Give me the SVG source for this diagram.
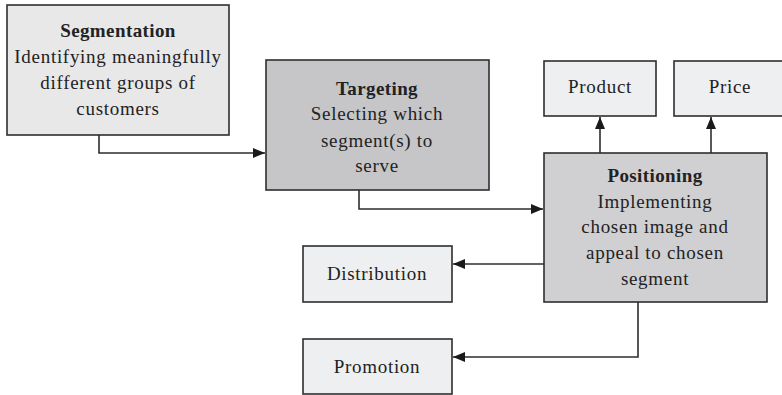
<svg xmlns="http://www.w3.org/2000/svg" width="782" height="395" viewBox="0 0 782 395">
  <style>
    .box { stroke: #2e2e2e; stroke-width: 1.6; }
    .light { fill: #eeeff0; }
    .mid { fill: #e8e8e9; }
    .dark { fill: #c6c6c8; }
    .pos { fill: #d0d0d2; }
    text { font-family: "Liberation Serif", "DejaVu Serif", serif; font-size: 19px; letter-spacing: 0.7px; fill: #222; text-anchor: middle; }
    .title { font-weight: bold; letter-spacing: 0.4px; }
    .conn { fill: none; stroke: #2e2e2e; stroke-width: 1.6; }
  </style>
  <defs>
    <marker id="arrow" viewBox="0 0 12 10" refX="12" refY="5" markerWidth="12" markerHeight="10" markerUnits="userSpaceOnUse" orient="auto">
      <path d="M0,0 L12,5 L0,10 Z" fill="#1a1a1a"/>
    </marker>
  </defs>

  <rect width="782" height="395" fill="#ffffff"/>

  <g id="connectors">
    <path class="conn" d="M99,135 V153 H265" marker-end="url(#arrow)"/>
    <path class="conn" d="M359,190 V209 H543" marker-end="url(#arrow)"/>
    <path class="conn" d="M600,153 V117" marker-end="url(#arrow)"/>
    <path class="conn" d="M711,153 V117" marker-end="url(#arrow)"/>
    <path class="conn" d="M544,264 H453" marker-end="url(#arrow)"/>
    <path class="conn" d="M638,302 V357 H453" marker-end="url(#arrow)"/>
  </g>

  <g id="segmentation">
    <rect class="box mid" x="7" y="5" width="222" height="130"/>
    <text class="title" x="118" y="37">Segmentation</text>
    <text x="118" y="63">Identifying meaningfully</text>
    <text x="118" y="89">different groups of</text>
    <text x="118" y="115">customers</text>
  </g>

  <g id="targeting">
    <rect class="box dark" x="266" y="60" width="223" height="130"/>
    <text class="title" x="377" y="95">Targeting</text>
    <text x="377" y="120">Selecting which</text>
    <text x="377" y="147">segment(s) to</text>
    <text x="377" y="172">serve</text>
  </g>

  <g id="product">
    <rect class="box light" x="544" y="61" width="112" height="55"/>
    <text x="600" y="93">Product</text>
  </g>

  <g id="price">
    <rect class="box light" x="674" y="61" width="112" height="55"/>
    <text x="730" y="93">Price</text>
  </g>

  <g id="positioning">
    <rect class="box pos" x="544" y="153" width="223" height="149"/>
    <text class="title" x="655" y="182">Positioning</text>
    <text x="655" y="208">Implementing</text>
    <text x="655" y="233">chosen image and</text>
    <text x="655" y="259">appeal to chosen</text>
    <text x="655" y="285">segment</text>
  </g>

  <g id="distribution">
    <rect class="box light" x="303" y="246" width="149" height="56"/>
    <text x="377" y="280">Distribution</text>
  </g>

  <g id="promotion">
    <rect class="box light" x="303" y="339" width="149" height="55"/>
    <text x="377" y="373">Promotion</text>
  </g>
</svg>
